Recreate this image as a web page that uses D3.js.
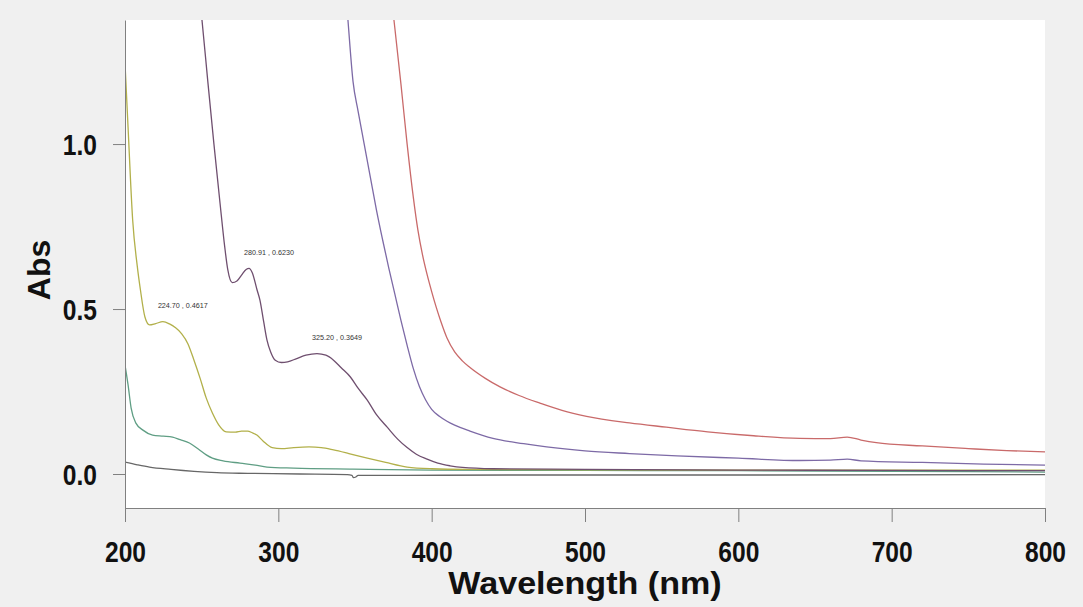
<!DOCTYPE html>
<html>
<head>
<meta charset="utf-8">
<script src="https://cdn.jsdelivr.net/npm/d3@7"></script>
<style>
  html, body { margin: 0; padding: 0; background: #f0f0f0; }
  svg { display: block; }
</style>
</head>
<body>
<svg id="chart" width="1083" height="607"></svg>
<script>
// ---------- data ----------
const xTicks = [200, 300, 400, 500, 600, 700, 800];
const yTicks = [0.0, 0.5, 1.0];
const xTitle = "Wavelength (nm)";
const yTitle = "Abs";

// [wavelength nm, absorbance]
const redSeries = [[370,1.60],[375.4,1.376],[380,1.18],[384,1.0],[388,0.84],[391,0.74],[394,0.665],[397,0.605],[400,0.553],[403,0.505],[406,0.462],[410,0.412],[415,0.37],[420,0.343],[425,0.323],[435,0.29],[444.6,0.264],[457,0.238],[470.6,0.215],[485,0.193],[501,0.175],[529,0.155],[553,0.142],[580,0.128],[610,0.116],[640,0.108],[660,0.107],[671,0.112],[680,0.103],[690,0.095],[720,0.085],[750,0.077],[775,0.071],[800,0.067]];
const purpleSeries = [[343,1.52],[345.4,1.376],[348.7,1.19],[352,1.10],[356,1.00],[360,0.90],[364,0.80],[368,0.71],[372,0.625],[376,0.545],[380,0.465],[384,0.39],[388,0.32],[392,0.265],[396,0.225],[400,0.196],[405,0.175],[410,0.16],[415,0.148],[425,0.13],[440,0.108],[460,0.092],[475,0.082],[500,0.070],[529,0.062],[560,0.055],[600,0.048],[640,0.041],[660,0.042],[671,0.045],[680,0.040],[720,0.035],[760,0.030],[800,0.027]];
const plumSeries = [[248,1.47],[250.2,1.376],[254,1.19],[258,1.0],[262,0.82],[265,0.69],[267,0.62],[270,0.58],[273,0.585],[276,0.603],[279,0.620],[280.91,0.6230],[283,0.61],[286,0.56],[288,0.527],[290.5,0.46],[292.6,0.406],[295,0.37],[298,0.345],[302,0.338],[306,0.340],[312,0.350],[318,0.360],[325.2,0.3649],[331,0.360],[336,0.345],[341,0.322],[347,0.294],[352,0.26],[358,0.224],[364,0.18],[371,0.142],[378,0.105],[384,0.080],[390,0.060],[397,0.045],[404,0.033],[412,0.025],[420,0.020],[440,0.016],[500,0.014],[600,0.012],[700,0.011],[800,0.010]];
const oliveSeries = [[200,1.245],[202,1.05],[205,0.77],[208,0.63],[210,0.56],[213,0.476],[216,0.452],[220,0.456],[224.7,0.4617],[229,0.455],[233,0.443],[237,0.425],[241,0.395],[245,0.345],[249,0.29],[253,0.23],[257,0.185],[261,0.15],[266,0.128],[272,0.127],[276,0.130],[280,0.130],[283,0.125],[286,0.118],[290,0.10],[296,0.080],[302,0.077],[310,0.080],[320,0.082],[328,0.080],[336,0.073],[346,0.062],[358,0.048],[370,0.035],[384,0.021],[400,0.016],[423,0.014],[500,0.013],[600,0.012],[700,0.012],[800,0.012]];
const tealSeries = [[200,0.33],[202,0.27],[204,0.20],[207,0.155],[211.7,0.133],[218,0.118],[225,0.115],[231,0.112],[236,0.104],[242,0.094],[248,0.075],[253,0.058],[257,0.048],[264,0.040],[275,0.033],[285,0.027],[292.6,0.021],[310,0.018],[348.7,0.015],[400,0.012],[500,0.011],[600,0.010],[700,0.008],[800,0.006]];
const graySeries = [[200,0.036],[208,0.028],[216,0.021],[230,0.014],[245,0.008],[260,0.004],[280,0.002],[314,0.000],[345,-0.002],[348,-0.004],[349,-0.011],[350.5,-0.009],[352,-0.004],[380,-0.004],[450,-0.003],[600,-0.003],[800,-0.002]];

// peak annotations [wavelength, absorbance]
const peaks = [[224.70,0.4617],[280.91,0.6230],[325.20,0.3649]];

const seriesList = [
  {data: graySeries,   color: "#676767"},
  {data: tealSeries,   color: "#5f9e84"},
  {data: oliveSeries,  color: "#b2b04a"},
  {data: plumSeries,   color: "#6f4f6f"},
  {data: purpleSeries, color: "#7d6aa6"},
  {data: redSeries,    color: "#c96a6a"}
];

// ---------- layout ----------
const svg = d3.select("#chart");
const L = 125, R = 1045, T = 20, B = 508;

const x = d3.scaleLinear().domain([200, 800]).range([L, R]);
const y = d3.scaleLinear().domain([-0.103, 1.376]).range([B, T]);

svg.append("rect").attr("x", L).attr("y", T).attr("width", R - L).attr("height", B - T).attr("fill", "#ffffff");

svg.append("clipPath").attr("id", "clip")
  .append("rect").attr("x", L).attr("y", T).attr("width", R - L).attr("height", B - T);

const line = d3.line().x(d => x(d[0])).y(d => y(d[1])).curve(d3.curveMonotoneX);

const g = svg.append("g").attr("clip-path", "url(#clip)");
seriesList.forEach(s => {
  g.append("path").attr("d", line(s.data)).attr("fill", "none")
    .attr("stroke", s.color).attr("stroke-width", 1.3).attr("stroke-linejoin", "round");
});

// peak labels
svg.append("g").selectAll("text").data(peaks).join("text")
  .attr("x", d => x(d[0]) + 20)
  .attr("y", d => y(d[1]) - 16)
  .attr("dy", "0.35em")
  .attr("text-anchor", "middle")
  .attr("font-family", "Liberation Sans, Arial, sans-serif")
  .attr("font-size", 7.2)
  .attr("fill", "#333")
  .text(d => `${d[0].toFixed(2)} , ${d[1].toFixed(4)}`);

const sx = 0.82;
// x axis
const xAxis = svg.append("g").attr("transform", `translate(0,${B})`)
  .call(d3.axisBottom(x).tickValues(xTicks).tickSizeInner(14).tickSizeOuter(0).tickFormat(d3.format("d")));
xAxis.select(".domain").attr("stroke", "#808080");
xAxis.selectAll(".tick line").attr("stroke", "#808080");
xAxis.selectAll(".tick text")
  .attr("y", 54).attr("dy", null)
  .attr("transform", `scale(${sx},1)`)
  .attr("font-family", "Liberation Sans, Arial, sans-serif")
  .attr("font-weight", "bold").attr("font-size", 30).attr("fill", "#111");

// y axis
const yAxis = svg.append("g").attr("transform", `translate(${L},0)`)
  .call(d3.axisLeft(y).tickValues(yTicks).tickSizeInner(12).tickSizeOuter(0).tickFormat(d3.format(".1f")));
yAxis.select(".domain").attr("stroke", "#808080");
yAxis.selectAll(".tick line").attr("stroke", "#808080");
yAxis.selectAll(".tick text")
  .attr("x", -28 / sx).attr("dy", "0.35em")
  .attr("transform", `scale(${sx},1)`)
  .attr("font-family", "Liberation Sans, Arial, sans-serif")
  .attr("font-weight", "bold").attr("font-size", 30).attr("fill", "#111");

// titles
const cx = (L + R) / 2;
svg.append("text").attr("x", cx).attr("y", 594).attr("text-anchor", "middle")
  .attr("font-family", "Liberation Sans, Arial, sans-serif").attr("font-weight", "bold")
  .attr("font-size", 31).attr("fill", "#111")
  .attr("transform", `translate(${cx},0) scale(1.1,1) translate(${-cx},0)`)
  .text(xTitle);

svg.append("text").attr("transform", "translate(50,270) rotate(-90)")
  .attr("text-anchor", "middle")
  .attr("font-family", "Liberation Sans, Arial, sans-serif").attr("font-weight", "bold")
  .attr("font-size", 32).attr("fill", "#111")
  .text(yTitle);
</script>
</body>
</html>
